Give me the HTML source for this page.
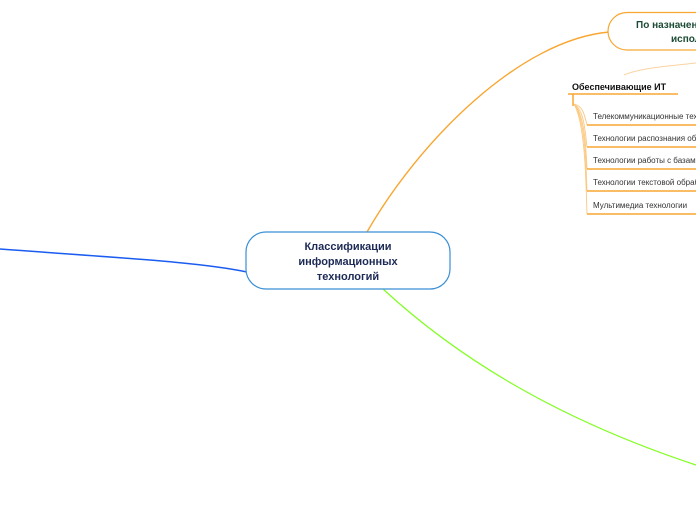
<!DOCTYPE html>
<html><head><meta charset="utf-8"><style>
html,body{margin:0;padding:0;background:#fff;width:696px;height:520px;overflow:hidden}
svg{display:block;font-family:"Liberation Sans","DejaVu Sans",sans-serif}
</style></head><body>
<svg width="696" height="520" viewBox="0 0 696 520" xmlns="http://www.w3.org/2000/svg">
<path d="M0,249 C120,258 200,262 247,272" fill="none" stroke="#1a5cf0" stroke-width="1.5"/>
<path d="M383,289 C460,360 560,420 696,465" fill="none" stroke="#80ff20" stroke-width="1.2"/>
<path d="M367,232 C420,140 520,40 609,32" fill="none" stroke="#f8a630" stroke-width="1.4"/>
<path d="M624,75 C640,68 670,66 696,63" fill="none" stroke="#fbd3a0" stroke-width="1"/>
<rect x="608" y="12.5" width="110" height="37.5" rx="19" fill="#fff" stroke="#f8a630" stroke-width="1.2"/>
<text x="636" y="28" font-size="10" font-weight="bold" fill="#1b4a35">По назначению</text>
<text x="671" y="42" font-size="10" font-weight="bold" fill="#1b4a35">использования</text>
<text x="572" y="90" font-size="9" font-weight="bold" fill="#111">Обеспечивающие ИТ</text>
<line x1="568" y1="94" x2="678" y2="94" stroke="#f8a630" stroke-width="1.5"/>
<line x1="573" y1="94" x2="573" y2="106" stroke="#f8a630" stroke-width="1.5"/>
<g fill="none" stroke="#fbc880" stroke-width="0.9">
<path d="M574,104 C582,106 584,112 587,125"/>
<path d="M574,104 C584,110 585,130 587,147"/>
<path d="M574,104 C585,115 586,150 587,169"/>
<path d="M574,104 C586,120 586,170 587,191"/>
<path d="M574,104 C586,125 586,190 587,214"/>
</g>
<g stroke="#f8a630" stroke-width="1.5">
<line x1="587" y1="125" x2="696" y2="125"/>
<line x1="587" y1="147" x2="696" y2="147"/>
<line x1="587" y1="169" x2="696" y2="169"/>
<line x1="587" y1="191" x2="696" y2="191"/>
<line x1="587" y1="214" x2="696" y2="214"/>
</g>
<g font-size="8" fill="#333">
<text x="593" y="119">Телекоммуникационные технологии</text>
<text x="593" y="141">Технологии распознания образов</text>
<text x="593" y="163">Технологии работы с базами данных</text>
<text x="593" y="185">Технологии текстовой обработки</text>
<text x="593" y="208">Мультимедиа технологии</text>
</g>
<rect x="246" y="232" width="204" height="57" rx="20" fill="#fff" stroke="#3a8fd6" stroke-width="1.2"/>
<g font-size="11" font-weight="bold" fill="#1c2a55" text-anchor="middle">
<text x="348" y="250">Классификации</text>
<text x="348" y="265">информационных</text>
<text x="348" y="280">технологий</text>
</g>
</svg>
</body></html>
